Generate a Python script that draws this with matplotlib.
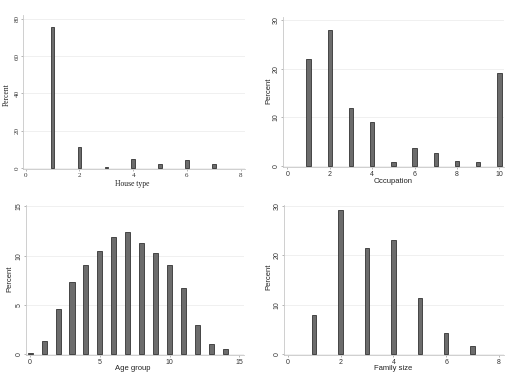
import matplotlib.pyplot as plt
import numpy as np

# values (percent)
house_type = [1, 2, 3, 4, 5, 6, 7]
house_pct = [75.7, 11.4, 0.5, 4.7, 2.0, 4.3, 2.0]

occupation = [1, 2, 3, 4, 5, 6, 7, 8, 9, 10]
occ_pct = [22.1, 28.1, 11.9, 9.1, 0.8, 3.7, 2.7, 1.1, 0.8, 19.1]

age_group = [0, 1, 2, 3, 4, 5, 6, 7, 8, 9, 10, 11, 12, 13, 14]
age_pct = [0.1, 1.3, 4.6, 7.3, 9.1, 10.5, 11.9, 12.4, 11.3, 10.3, 9.1, 6.7, 2.9, 1.05, 0.5]

family_size = [1, 2, 3, 4, 5, 6, 7]
fam_pct = [7.9, 29.1, 21.6, 23.1, 11.3, 4.25, 1.75]

W, H = 512, 378
fig = plt.figure(figsize=(W / 100, H / 100), dpi=100)


def make_axes(px_left, px_right, px_top, px_bottom):
    return fig.add_axes([px_left / W, 1 - px_bottom / H,
                         (px_right - px_left) / W, (px_bottom - px_top) / H])


def draw(ax, x, y, width, xlim, ylim, xticks, yticks, xlabel, family, xlab_pos, ylab_pos):
    ax.bar(x, y, width=width, color='#6c6c6c', edgecolor='#333333', linewidth=0.6, zorder=3)
    ax.set_xlim(*xlim)
    ax.set_ylim(*ylim)
    ax.set_xticks(xticks)
    ax.set_yticks(yticks)
    for s in ['top', 'right']:
        ax.spines[s].set_visible(False)
    for s in ['left', 'bottom']:
        ax.spines[s].set_color('#c8c8c8')
        ax.spines[s].set_linewidth(0.6)
    ax.yaxis.grid(True, color='#eeeeee', linewidth=0.6, zorder=0)
    ax.tick_params(length=1.5, width=0.5, color='#999999', labelsize=5,
                   labelcolor='#333333')
    ax.tick_params(axis='x', pad=1.5)
    ax.tick_params(axis='y', pad=1)
    for lab in ax.get_yticklabels():
        lab.set_rotation(90)
        lab.set_va('center')
        lab.set_family(family)
    for lab in ax.get_xticklabels():
        lab.set_family(family)
    ax.set_xlabel(xlabel, fontsize=5.5, family=family, color='#222222', va='center')
    ax.set_ylabel('Percent', fontsize=5.5, family=family, color='#222222', va='center')
    ax.xaxis.set_label_coords(*xlab_pos)
    ax.yaxis.set_label_coords(*ylab_pos)


ax1 = make_axes(23, 245, 15, 168.5)
draw(ax1, house_type, house_pct, 0.13, (-0.1, 8.16), (-0.3, 82.1),
     [0, 2, 4, 6, 8], [0, 20, 40, 60, 80], 'House type', 'Liberation Serif',
     (0.49, -0.1), (-0.075, 0.48))

ax2 = make_axes(283, 504, 17, 166.5)
draw(ax2, occupation, occ_pct, 0.21, (-0.21, 10.22), (-0.1, 30.7),
     [0, 2, 4, 6, 8, 10], [0, 10, 20, 30], 'Occupation', 'Liberation Sans',
     (0.50, -0.1), (-0.065, 0.51))

ax3 = make_axes(26, 244, 205, 354.5)
draw(ax3, age_group, age_pct, 0.36, (-0.3, 15.34), (-0.05, 15.15),
     [0, 5, 10, 15], [0, 5, 10, 15], 'Age group', 'Liberation Sans',
     (0.49, -0.095), (-0.075, 0.51))

ax4 = make_axes(284, 504, 205, 354.5)
draw(ax4, family_size, fam_pct, 0.17, (-0.14, 8.19), (-0.05, 30.2),
     [0, 2, 4, 6, 8], [0, 10, 20, 30], 'Family size', 'Liberation Sans',
     (0.495, -0.095), (-0.068, 0.52))

fig.savefig('out.png', dpi=100, facecolor='white')
